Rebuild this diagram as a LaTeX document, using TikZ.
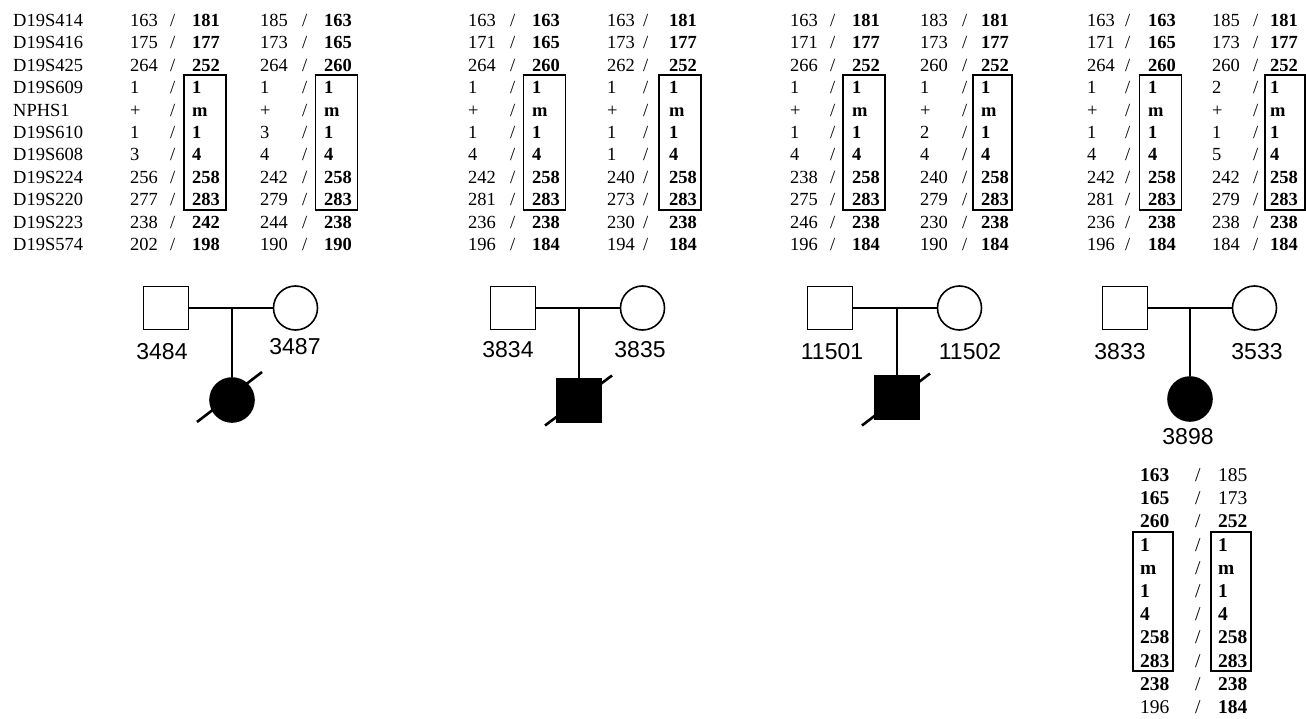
\documentclass[tikz,border=0pt]{standalone}
\usepackage{fontspec}
\setmainfont{Liberation Serif}
\newfontfamily\lblfont{Liberation Sans}
\begin{document}
\begin{tikzpicture}[x=1pt,y=-1pt,
  cell/.style={font=\fontsize{18.5}{22}\selectfont, inner sep=0pt, anchor=base west},
  bcell/.style={cell, font=\fontsize{18.5}{22}\selectfont\bfseries},
  ccell/.style={font=\fontsize{19.5}{23}\selectfont, inner sep=0pt, anchor=base west},
  cbcell/.style={ccell, font=\fontsize{19.5}{23}\selectfont\bfseries},
  hapbox/.style={draw, line width=1.4pt, inner sep=0pt, minimum width=42pt, minimum height=135pt},
  chapbox/.style={draw, line width=1.4pt, inner sep=0pt, minimum width=40pt, minimum height=139pt},
  pedline/.style={line width=1.6pt},
  male/.style={draw, line width=1.6pt, minimum width=45pt, minimum height=43pt, inner sep=0pt},
  female/.style={circle, draw, line width=1.6pt, minimum size=44pt, inner sep=0pt},
  affected/.style={fill=black},
  deadline/.style={line width=2.6pt},
  lbl/.style={font=\lblfont\fontsize{23}{26}\selectfont, inner sep=0pt}
]
\useasboundingbox (0,0) rectangle (1306,719);

\newcommand\allelecol[4]{%
  \foreach \v [count=\i from 0] in {#4}
    \node[#3] (#1\i) at (#2, {26.3+22.45*\i}) {\v};}
\newcommand\slashcol[2]{%
  \foreach \i in {0,...,10}
    \node[cell] (#1\i) at (#2, {26.3+22.45*\i}) {/};}

% marker names
\allelecol{mk}{13}{cell}{D19S414,D19S416,D19S425,D19S609,NPHS1,D19S610,D19S608,D19S224,D19S220,D19S223,D19S574}

% family 1
\allelecol{fa}{130}{cell}{163,175,264,1,+,1,3,256,277,238,202}
\slashcol{fas}{170}
\allelecol{fb}{192}{bcell}{181,177,252,1,m,1,4,258,283,242,198}
\node[hapbox] (bx1) at (205,142.5) {};
\allelecol{ga}{260}{cell}{185,173,264,1,+,3,4,242,279,244,190}
\slashcol{gas}{302}
\allelecol{gb}{324}{bcell}{163,165,260,1,m,1,4,258,283,238,190}
\node[hapbox] (bx2) at (336.5,142.5) {};

% family 2
\allelecol{ha}{468}{cell}{163,171,264,1,+,1,4,242,281,236,196}
\slashcol{has}{510}
\allelecol{hb}{532}{bcell}{163,165,260,1,m,1,4,258,283,238,184}
\node[hapbox] (bx3) at (544.5,142.5) {};
\allelecol{ia}{607}{cell}{163,173,262,1,+,1,1,240,273,230,194}
\slashcol{ias}{643}
\allelecol{ib}{669}{bcell}{181,177,252,1,m,1,4,258,283,238,184}
\node[hapbox] (bx4) at (680,142.5) {};

% family 3
\allelecol{ja}{790}{cell}{163,171,266,1,+,1,4,238,275,246,196}
\slashcol{jas}{830}
\allelecol{jb}{852}{bcell}{181,177,252,1,m,1,4,258,283,238,184}
\node[hapbox] (bx5) at (864,142.5) {};
\allelecol{ka}{920}{cell}{183,173,260,1,+,2,4,240,279,230,190}
\slashcol{kas}{962}
\allelecol{kb}{981}{bcell}{181,177,252,1,m,1,4,258,283,238,184}
\node[hapbox, minimum width=39pt] (bx6) at (992.5,142.5) {};

% family 4
\allelecol{la}{1087}{cell}{163,171,264,1,+,1,4,242,281,236,196}
\slashcol{las}{1125}
\allelecol{lb}{1148}{bcell}{163,165,260,1,m,1,4,258,283,238,184}
\node[hapbox] (bx7) at (1160.5,142.5) {};
\allelecol{na}{1212}{cell}{185,173,260,2,+,1,5,242,279,238,184}
\slashcol{nas}{1253}
\allelecol{nb}{1270}{bcell}{181,177,252,1,m,1,4,258,283,238,184}
\node[hapbox, minimum width=40pt] (bx8) at (1285,142.5) {};

% pedigrees
\node[male] (p1f) at (166,308) {};
\node[female] (p1m) at (295.5,308) {};
\coordinate (p1j) at (232,308);
\node[female, affected] (p1c) at (232,400) {};
\draw[pedline] (p1f.east) -- (p1m.west);
\draw[pedline] (p1j) -- (p1c.north);
\draw[deadline] ([shift={(-35,22)}]p1c.center) -- ([shift={(30,-28)}]p1c.center);
\node[lbl] (p1fl) at (162,352) {3484};
\node[lbl] (p1ml) at (295,347) {3487};

\node[male] (p2f) at (513,308) {};
\node[female] (p2m) at (642.5,308) {};
\coordinate (p2j) at (579,308);
\node[male, affected] (p2c) at (579,400.5) {};
\draw[pedline] (p2f.east) -- (p2m.west);
\draw[pedline] (p2j) -- (p2c.north);
\draw[deadline] ([shift={(-34,25)}]p2c.center) -- ([shift={(33,-25)}]p2c.center);
\node[lbl] (p2fl) at (508,350) {3834};
\node[lbl] (p2ml) at (640,350) {3835};

\node[male] (p3f) at (830,308) {};
\node[female] (p3m) at (959.5,308) {};
\coordinate (p3j) at (897,308);
\node[male, affected] (p3c) at (897,397.5) {};
\draw[pedline] (p3f.east) -- (p3m.west);
\draw[pedline] (p3j) -- (p3c.north);
\draw[deadline] ([shift={(-35,28)}]p3c.center) -- ([shift={(33,-24)}]p3c.center);
\node[lbl] (p3fl) at (832,352) {11501};
\node[lbl] (p3ml) at (970,352) {11502};

\node[male] (p4f) at (1125,308) {};
\node[female] (p4m) at (1254.5,308) {};
\coordinate (p4j) at (1190,308);
\node[female, affected] (p4c) at (1190,399) {};
\draw[pedline] (p4f.east) -- (p4m.west);
\draw[pedline] (p4j) -- (p4c.north);
\node[lbl] (p4fl) at (1120,352) {3833};
\node[lbl] (p4ml) at (1257,352) {3533};
\node[lbl] (p4cl) at (1188,437) {3898};

% child haplotype
\foreach \v [count=\i from 0] in {163,165,260,1,m,1,4,258,283,238}
  \node[cbcell] (qa\i) at (1140, {481.5+23.2*\i}) {\v};
\node[ccell] (qa10) at (1140, {481.5+23.2*10}) {196};
\foreach \i in {0,...,10}
  \node[ccell] (qs\i) at (1195, {481.5+23.2*\i}) {/};
\node[ccell] (qb0) at (1218, 481.5) {185};
\node[ccell] (qb1) at (1218, {481.5+23.2}) {173};
\foreach \v [count=\i from 2] in {252,1,m,1,4,258,283,238,184}
  \node[cbcell] (qb\i) at (1218, {481.5+23.2*\i}) {\v};
\node[chapbox] (cbx1) at (1153,601.5) {};
\node[chapbox] (cbx2) at (1231,601.5) {};
\end{tikzpicture}
\end{document}
